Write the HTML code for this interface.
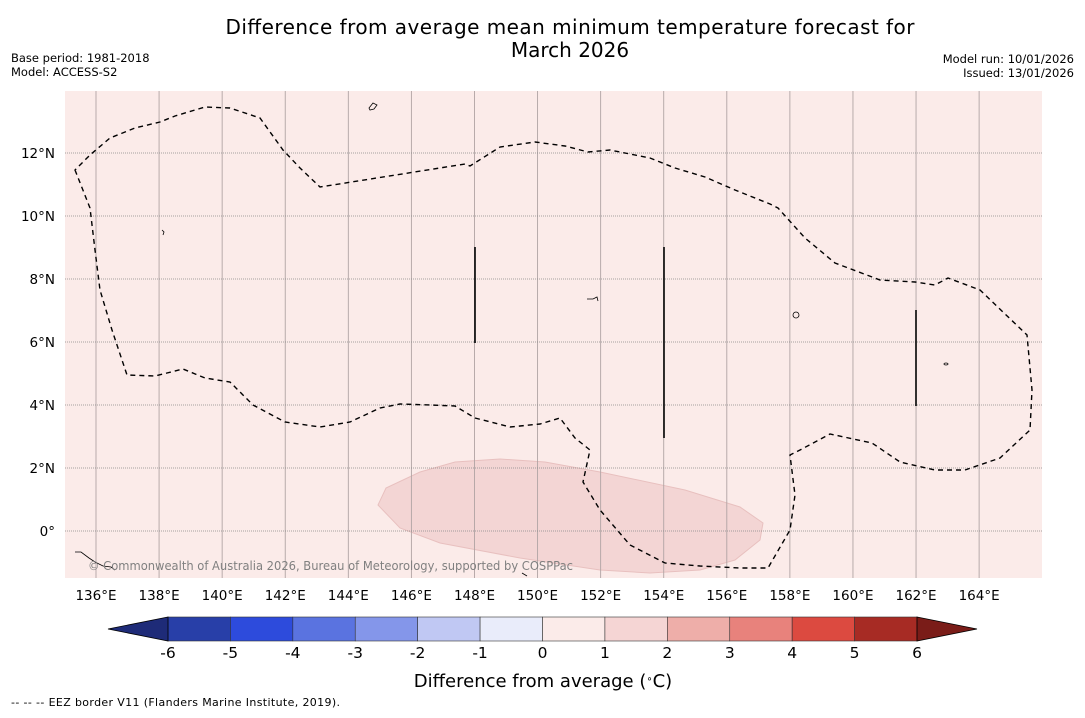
<!DOCTYPE html>
<html><head><meta charset="utf-8"><style>
body{margin:0;width:1085px;height:713px;background:#fff;font-family:"Liberation Sans","DejaVu Sans",sans-serif;overflow:hidden}
</style></head><body>
<svg width="1085" height="713" font-family="DejaVu Sans, Liberation Sans, sans-serif">
<text x="570" y="34" text-anchor="middle" font-size="20" textLength="689">Difference from average mean minimum temperature forecast for</text>
<text x="570" y="57" text-anchor="middle" font-size="20">March 2026</text>
<text x="11" y="62" font-size="11.5">Base period: 1981-2018</text>
<text x="11" y="76" font-size="11.5">Model: ACCESS-S2</text>
<text x="1074" y="63" font-size="11.5" text-anchor="end">Model run: 10/01/2026</text>
<text x="1074" y="77" font-size="11.5" text-anchor="end">Issued: 13/01/2026</text>
<rect x="65" y="91" width="977" height="487" fill="#fbebe9"/>
<path d="M378,505 L386,488 L420,472 L455,462 L500,459 L545,462 L600,472 L685,490 L740,507 L763,523 L760,540 L735,560 L700,570 L650,573 L600,570 L520,558 L440,543 L400,528 Z" fill="#f3d5d4" stroke="#e8c0bf" stroke-width="1"/>
<g id="grid"></g>
<path fill="none" stroke="#000" stroke-width="1.4" stroke-dasharray="5,4" d="M75,170 L90,208 L95,250 L100,290 L112,330 L127,375 L155,376 L183,369 L205,378 L230,382 L253,405 L285,422 L320,427 L350,422 L380,408 L400,404 L430,405 L455,406 L475,418 L510,427 L540,424 L560,418 L575,438 L590,450 L583,482 L600,510 L630,545 L665,563 L700,566 L740,568 L768,568 L790,530 L795,495 L790,455 L800,450 L830,434 L872,443 L900,462 L935,470 L965,470 L1000,458 L1030,430 L1032,390 L1027,335 L980,290 L948,278 L935,285 L915,282 L880,280 L835,263 L805,238 L778,208 L770,204 L735,190 L705,177 L675,168 L650,158 L610,150 L588,152 L565,146 L535,142 L500,147 L470,166 L465,164 L320,187 L300,168 L283,150 L260,118 L230,108 L205,107 L175,116 L160,122 L135,128 L110,138 L90,155 Z"/>
<g stroke="#000" stroke-width="1.6">
<line x1="475" y1="247" x2="475" y2="343"/><line x1="664" y1="247" x2="664" y2="438"/><line x1="916" y1="310" x2="916" y2="406"/>
</g>
<g fill="none" stroke="#000" stroke-width="0.8">
<path d="M369,108 l4,-5 l4,2 l-3,4 l-4,1z"/><ellipse cx="796" cy="315" rx="3" ry="3"/><path d="M75,552 l6,0 l8,6 l6,4 l8,4 l8,1 l4,3"/><path d="M587,299 l6,0 l4,-2 l1,4"/><ellipse cx="946" cy="364" rx="2" ry="1"/><path d="M162,230 l2,2 l-1,3"/><path d="M522,573 l5,3"/>
</g>
<text x="88" y="570" font-size="12" fill="#808080" textLength="485" lengthAdjust="spacingAndGlyphs">© Commonwealth of Australia 2026, Bureau of Meteorology, supported by COSPPac</text>
<g id="axes"></g>
<g id="cbar"></g>
<text x="543" y="687" font-size="18" text-anchor="middle">Difference from average (<tspan baseline-shift="super" font-size="10">∘</tspan>C)</text>
<text x="11" y="706" font-size="11" textLength="329">--  --  -- EEZ border V11 (Flanders Marine Institute, 2019).</text>
</svg>
<script>
const lonTicks=[136,138,140,142,144,146,148,150,152,154,156,158,160,162,164];
const latTicks=[0,2,4,6,8,10,12];
const cbarLevels=[-6,-5,-4,-3,-2,-1,0,1,2,3,4,5,6];
const cbarColors=["#283fa8","#2d4bdc","#5a73e0","#8496ea","#c0c8f3","#e9ecfa","#fbebe9","#f5d5d4","#eeaea9","#e8827c","#dc4a40","#a72b24"];
const NS="http://www.w3.org/2000/svg";
const X=lon=>96+(lon-136)*31.54, Y=lat=>531-lat*31.5;
const CB=v=>168+(v+6)*(749/12);
function mk(t,a,p){const e=document.createElementNS(NS,t);for(const k in a)e.setAttribute(k,a[k]);p.appendChild(e);return e;}
const g=document.getElementById('grid'),ax=document.getElementById('axes'),cb=document.getElementById('cbar');
lonTicks.forEach(l=>{const x=X(l);
 const ln=mk('line',{x1:x,y1:91,x2:x,y2:578,stroke:'#b0a4a4','stroke-width':0.9},g);
 
 
 const t=mk('text',{x:x,y:600,'font-size':13.5,'text-anchor':'middle'},ax);t.textContent=l+'°E';
 
 });
latTicks.forEach(l=>{const y=Y(l);
 const ln=mk('line',{x1:65,y1:y,x2:1042,y2:y,stroke:'#888','stroke-width':0.8,'stroke-dasharray':'1,1'},g);
 
 
 const t=mk('text',{x:55,y:y+5,'font-size':13.5,'text-anchor':'end'},ax);t.textContent=l===0?'0°':l+'°N';
 
 });
cbarColors.forEach((c,i)=>{const x0=CB(cbarLevels[i]),x1=CB(cbarLevels[i+1]);
 const r=mk('rect',{x:x0,y:617,width:x1-x0,height:24,fill:c,stroke:'#333','stroke-width':0.6},cb);
 
 });
const tl=mk('polygon',{points:`168,617 108,629 168,641`,fill:'#1e2b78',stroke:'#000','stroke-width':0.8},cb);


const tr=mk('polygon',{points:`917,617 977,629 917,641`,fill:'#7a1c18',stroke:'#000','stroke-width':0.8},cb);


cbarLevels.forEach(v=>{const t=mk('text',{x:CB(v),y:658,'font-size':15.5,'text-anchor':'middle'},cb);t.textContent=v;
 
 });
</script>
</body></html>
